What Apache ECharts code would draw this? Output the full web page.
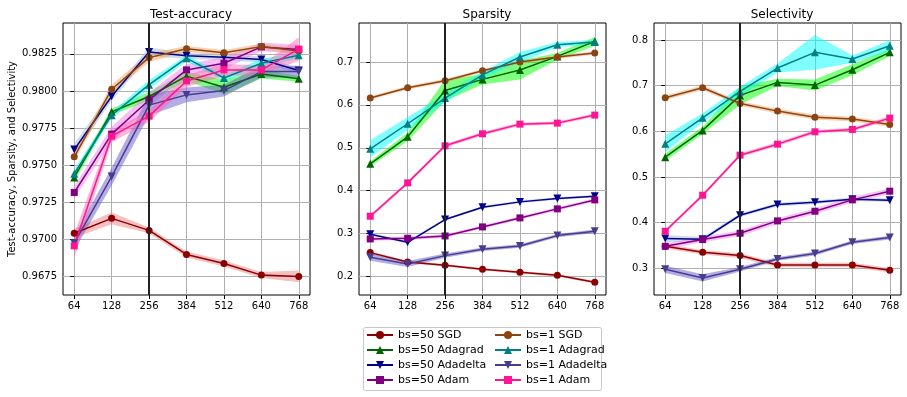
<!DOCTYPE html>
<html>
<head>
<meta charset="utf-8" />
<title>optimizers</title>
<script src="https://cdn.jsdelivr.net/npm/echarts@6/dist/echarts.min.js"></script>
<style>
  body { margin: 0; background: #fff; }
  #chart { width: 907px; height: 397px; }
</style>
</head>
<body>
<div id="chart"></div>
<script>
// x positions are evenly spaced, labels only
var xLabels = ['64', '128', '256', '384', '512', '640', '768'];
var names = ['bs=50 SGD', 'bs=50 Adagrad', 'bs=50 Adadelta', 'bs=50 Adam',
             'bs=1 SGD', 'bs=1 Adagrad', 'bs=1 Adadelta', 'bs=1 Adam'];

// rows follow the order of names
var accuracy = [
  [0.97043, 0.97143, 0.97062, 0.96900, 0.96839, 0.96761, 0.96752],
  [0.97418, 0.97860, 0.97963, 0.98100, 0.98026, 0.98115, 0.98082],
  [0.97606, 0.97965, 0.98263, 0.98237, 0.98228, 0.98212, 0.98138],
  [0.97317, 0.97710, 0.97940, 0.98142, 0.98187, 0.98297, 0.98280],
  [0.97557, 0.98012, 0.98225, 0.98284, 0.98257, 0.98299, 0.98270],
  [0.97444, 0.97837, 0.98043, 0.98221, 0.98088, 0.98187, 0.98241],
  [0.96976, 0.97424, 0.97905, 0.97974, 0.98003, 0.98131, 0.98131],
  [0.96958, 0.97696, 0.97831, 0.98068, 0.98142, 0.98142, 0.98282]
];
var accuracySpread = [
  [0.0003, 0.0004, 0.0002, 0.0002, 0.0002, 0.0002, 0.0004],
  [0.0003, 0.0002, 0.0003, 0.0003, 0.0005, 0.0003, 0.0002],
  [0.0004, 0.0003, 0.0003, 0.0002, 0.0002, 0.0002, 0.0002],
  [0.0004, 0.0005, 0.0005, 0.0004, 0.0004, 0.0003, 0.0003],
  [0.0003, 0.0003, 0.0003, 0.0002, 0.0002, 0.0002, 0.0002],
  [0.0003, 0.0002, 0.0003, 0.0002, 0.0002, 0.0003, 0.0002],
  [0.0005, 0.0006, 0.0007, 0.0005, 0.0004, 0.0004, 0.0004],
  [0.0008, 0.0004, 0.0004, 0.0004, 0.0004, 0.0003, 0.0008]
];
var sparsity = [
  [0.2553, 0.2335, 0.2257, 0.2164, 0.2093, 0.2023, 0.1860],
  [0.4625, 0.5255, 0.6338, 0.6595, 0.6813, 0.7132, 0.7483],
  [0.2981, 0.2794, 0.3324, 0.3612, 0.3737, 0.3815, 0.3869],
  [0.2872, 0.2888, 0.2942, 0.3153, 0.3363, 0.3574, 0.3783],
  [0.6160, 0.6400, 0.6564, 0.6798, 0.7000, 0.7117, 0.7210],
  [0.4975, 0.5560, 0.6160, 0.6700, 0.7117, 0.7405, 0.7467],
  [0.2444, 0.2288, 0.2483, 0.2631, 0.2709, 0.2950, 0.3051],
  [0.3402, 0.4180, 0.5045, 0.5326, 0.5551, 0.5575, 0.5762]
];
var sparsitySpread = [
  [0.003, 0.003, 0.003, 0.003, 0.003, 0.003, 0.003],
  [0.006, 0.010, 0.025, 0.012, 0.022, 0.008, 0.010],
  [0.003, 0.003, 0.003, 0.003, 0.003, 0.003, 0.003],
  [0.004, 0.004, 0.004, 0.004, 0.004, 0.004, 0.004],
  [0.004, 0.004, 0.004, 0.004, 0.004, 0.004, 0.004],
  [0.020, 0.015, 0.010, 0.008, 0.012, 0.006, 0.005],
  [0.008, 0.007, 0.005, 0.004, 0.004, 0.004, 0.004],
  [0.004, 0.004, 0.004, 0.004, 0.004, 0.004, 0.004]
];
var selectivity = [
  [0.3482, 0.3351, 0.3278, 0.3073, 0.3073, 0.3073, 0.2956],
  [0.5434, 0.6020, 0.6787, 0.7072, 0.7013, 0.7350, 0.7730],
  [0.3651, 0.3636, 0.4162, 0.4396, 0.4447, 0.4513, 0.4491],
  [0.3482, 0.3629, 0.3768, 0.4038, 0.4250, 0.4499, 0.4689],
  [0.6735, 0.6955, 0.6611, 0.6443, 0.6311, 0.6268, 0.6151],
  [0.5727, 0.6297, 0.6874, 0.7386, 0.7730, 0.7583, 0.7876],
  [0.2978, 0.2788, 0.2978, 0.3205, 0.3322, 0.3570, 0.3673],
  [0.3811, 0.4601, 0.5478, 0.5719, 0.5990, 0.6041, 0.6290]
];
var selectivitySpread = [
  [0.005, 0.005, 0.005, 0.005, 0.005, 0.005, 0.005],
  [0.008, 0.008, 0.020, 0.008, 0.012, 0.012, 0.008],
  [0.008, 0.005, 0.004, 0.004, 0.004, 0.004, 0.004],
  [0.006, 0.006, 0.006, 0.006, 0.006, 0.006, 0.006],
  [0.005, 0.005, 0.005, 0.005, 0.005, 0.005, 0.005],
  [0.018, 0.010, 0.010, 0.010, 0.038, 0.008, 0.012],
  [0.008, 0.008, 0.005, 0.004, 0.004, 0.004, 0.004],
  [0.004, 0.004, 0.004, 0.004, 0.004, 0.004, 0.004]
];
var accTicks = [0.9675, 0.9700, 0.9725, 0.9750, 0.9775, 0.9800, 0.9825];
var sparTicks = [0.2, 0.3, 0.4, 0.5, 0.6, 0.7];
var selTicks = [0.3, 0.4, 0.5, 0.6, 0.7, 0.8];

var lineColors = ['#8b0000', '#006400', '#00008b', '#800080',
                  '#8b4513', '#008080', '#483d8b', '#ff1493'];
var bandColors = ['rgba(240,128,128,0.5)', 'rgba(0,255,0,0.5)', 'rgba(176,196,222,0.6)', 'rgba(238,130,238,0.5)',
                  'rgba(244,164,96,0.5)', 'rgba(0,255,255,0.5)', 'rgba(106,90,205,0.5)', 'rgba(255,105,180,0.5)'];
var symbols = ['circle', 'triangle', 'triangle', 'rect', 'circle', 'triangle', 'triangle', 'rect'];
var rotations = [0, 0, 180, 0, 0, 0, 180, 0];
var sizes = [7, 8, 8, 7, 7, 8, 8, 7];

var font = 'DejaVu Sans';
var lefts = [63, 359, 654];
var panels = [
  { title: 'Test-accuracy', mean: accuracy, spread: accuracySpread, ticks: accTicks,
    min: 0.96627, max: 0.98458, step: 0.0025, digits: 4 },
  { title: 'Sparsity', mean: sparsity, spread: sparsitySpread, ticks: sparTicks,
    min: 0.1564, max: 0.7911, step: 0.1, digits: 1 },
  { title: 'Selectivity', mean: selectivity, spread: selectivitySpread, ticks: selTicks,
    min: 0.2415, max: 0.8373, step: 0.1, digits: 1 }
];
var xIdx = xLabels.map(function (l, k) { return k; });

// fill_between: one polygon per band, drawn once from the first item
function bandItem(row, spr, color) {
  return function (params, api) {
    if (params.dataIndex !== 0) return null;
    var pts = [];
    for (var k = 0; k < row.length; k++) pts.push(api.coord([k, row[k] + spr[k]]));
    for (var j = row.length - 1; j >= 0; j--) pts.push(api.coord([j, row[j] - spr[j]]));
    return { type: 'polygon', shape: { points: pts }, style: { fill: color }, silent: true };
  };
}

var grids = [], xAxes = [], yAxes = [], titles = [], series = [];
panels.forEach(function (p, g) {
  grids.push({ left: lefts[g], top: 23, width: 247, height: 272, show: true,
    borderColor: '#000', borderWidth: 1, backgroundColor: 'transparent' });
  titles.push({ text: p.title, left: lefts[g] + 123, top: 4, textAlign: 'center',
    textStyle: { fontFamily: font, fontSize: 12, fontWeight: 'normal', color: '#000' } });
  xAxes.push({ gridIndex: g, type: 'value', min: -0.3, max: 6.3, minInterval: 1, maxInterval: 1,
    axisLine: { show: false },
    axisTick: { show: true, length: 4, customValues: xIdx, lineStyle: { color: '#000' } },
    axisLabel: { customValues: xIdx, fontFamily: font, fontSize: 10, color: '#000', margin: 6,
      formatter: function (v) { return xLabels[Math.round(v)]; } },
    splitLine: { show: true, lineStyle: { color: '#b0b0b0', width: 1 } } });
  yAxes.push({ gridIndex: g, type: 'value', min: p.min, max: p.max,
    minInterval: p.step, maxInterval: p.step,
    name: g === 0 ? 'Test-accuracy, Sparsity, and Selectivity' : '',
    nameLocation: 'middle', nameGap: 46,
    nameTextStyle: { fontFamily: font, fontSize: 10, color: '#000' },
    axisLine: { show: false },
    axisTick: { show: true, length: 4, customValues: p.ticks, lineStyle: { color: '#000' } },
    axisLabel: { customValues: p.ticks, fontFamily: font, fontSize: 10, color: '#000', margin: 6,
      formatter: function (v) { return v.toFixed(p.digits); } },
    splitLine: { show: true, lineStyle: { color: '#b0b0b0', width: 1 } } });

  p.mean.forEach(function (row, i) {
    series.push({ type: 'custom', xAxisIndex: g, yAxisIndex: g, silent: true, z: 1, clip: true,
      encode: { x: 0, y: 1 },
      renderItem: bandItem(row, p.spread[i], bandColors[i]),
      data: row.map(function (v, k) { return [k, v]; }) });
  });
  p.mean.forEach(function (row, i) {
    var s = { type: 'line', name: names[i], xAxisIndex: g, yAxisIndex: g, z: 3,
      symbol: symbols[i], symbolRotate: rotations[i], symbolSize: sizes[i],
      color: lineColors[i], lineStyle: { width: 1.5, color: lineColors[i] },
      itemStyle: { color: lineColors[i] },
      data: row.map(function (v, k) { return [k, v]; }) };
    if (i === 0) {
      s.markLine = { silent: true, symbol: 'none', animation: false, label: { show: false },
        lineStyle: { color: '#222', width: 2, type: 'solid' }, data: [{ xAxis: 2 }] };
    }
    series.push(s);
  });
});

var legendCommon = { orient: 'vertical', itemWidth: 26, itemHeight: 10, itemGap: 0,
  padding: 0, height: 70,
  textStyle: { fontFamily: font, fontSize: 11, color: '#000', lineHeight: 15 } };

var chart = echarts.init(document.getElementById('chart'));
chart.setOption({
  animation: false,
  title: titles,
  grid: grids,
  xAxis: xAxes,
  yAxis: yAxes,
  legend: [
    Object.assign({ left: 366, top: 327.5, data: names.slice(0, 4) }, legendCommon),
    Object.assign({ left: 494, top: 327.5, data: names.slice(4) }, legendCommon)
  ],
  graphic: [{ type: 'rect', shape: { x: 363.5, y: 327.5, width: 238, height: 63, r: 2 },
    style: { fill: 'none', stroke: '#c8c8c8', lineWidth: 1 }, z: -1 }],
  series: series
});
</script>
</body>
</html>
